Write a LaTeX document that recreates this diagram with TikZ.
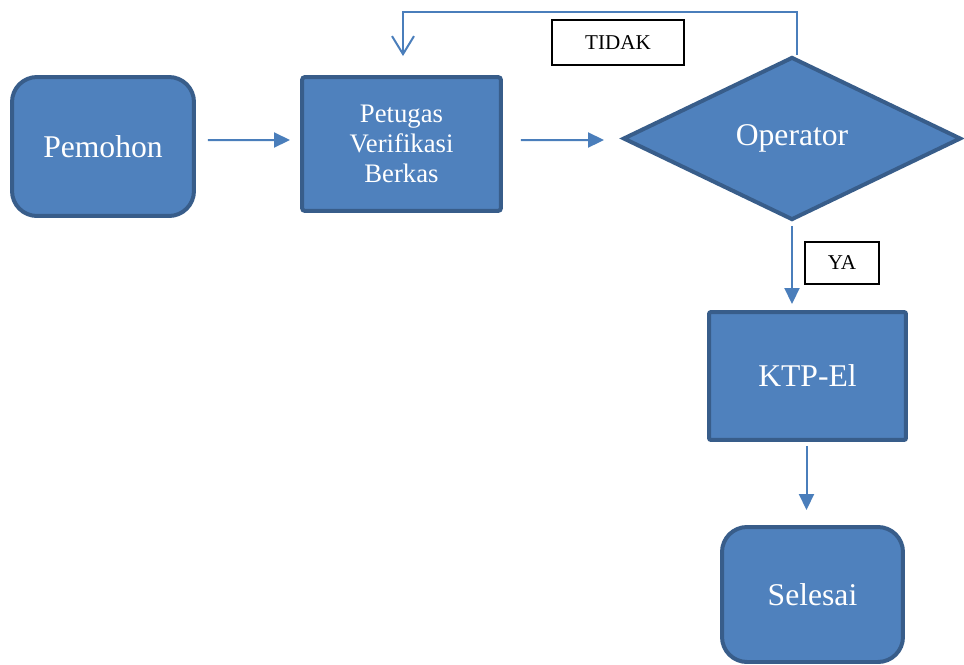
\documentclass[tikz,border=0pt]{standalone}
\usepackage{fontspec}
\setmainfont{Liberation Serif}
\usetikzlibrary{shapes.geometric,arrows.meta}
\definecolor{isian}{HTML}{4F81BD}
\definecolor{tepi}{HTML}{385D8A}
\definecolor{garis}{HTML}{4A7EBB}
\tikzset{
    blok/.style={draw=tepi, fill=isian, line width=0.08cm, text=white, align=center, inner sep=0},
    ket/.style={draw=black, line width=0.7pt, inner sep=0, font=\fontsize{12}{14}\selectfont},
    alur/.style={draw=garis, line width=0.04cm, -{Triangle[length=0.32cm,width=0.3cm]}},
}

\begin{document}
\begin{tikzpicture}[x=0.02cm,y=-0.02cm]
\useasboundingbox (0,0) rectangle (964,664);
%boxes
\node[blok, rounded corners=0.5cm, minimum width=3.64cm, minimum height=2.78cm, font=\fontsize{18}{21}\selectfont] (pemohon) at (103,146.5) {Pemohon};
\node[blok, rounded corners=0.06cm, minimum width=3.98cm, minimum height=2.68cm, font=\fontsize{15.2}{17.2}\selectfont] (petugas) at (401.5,144) {Petugas\\Verifikasi\\Berkas};
\node[blok, diamond, minimum width=6.76cm, minimum height=3.26cm, font=\fontsize{18}{21}\selectfont] (operator) at (792,138.5) {\raisebox{-0.06cm}{Operator}};
\node[blok, rounded corners=0.04cm, minimum width=3.94cm, minimum height=2.56cm, font=\fontsize{18}{21}\selectfont] (ktp) at (807.5,376) {KTP-El};
\node[blok, rounded corners=0.5cm, minimum width=3.62cm, minimum height=2.7cm, font=\fontsize{18}{21}\selectfont] (selesai) at (812.5,594.5) {Selesai};

%labels
\node[ket, minimum width=2.64cm, minimum height=0.9cm] (tidak) at (618,42.5) {TIDAK};
\node[ket, minimum width=1.48cm, minimum height=0.84cm] (ya) at (842,263) {YA};

%arrows
\draw[alur, shorten <=0.24cm, shorten >=0.2cm] ([yshift=0.13cm]pemohon.east) -- ([yshift=0.08cm]petugas.west);
\draw[alur, shorten <=0.36cm, shorten >=0.34cm] ([yshift=0.08cm]petugas.east) -- ([yshift=-0.03cm]operator.west);
\draw[alur, shorten <=0.08cm, shorten >=0.12cm] (operator.south) -- (operator.south |- ktp.north);
\draw[alur, shorten <=0.08cm, shorten >=0.3cm] ([xshift=-0.02cm]ktp.south) -- ([xshift=-0.02cm]ktp.south |- selesai.north);
\coordinate (atas) at (0,12);
\draw[draw=garis, line width=0.04cm, -{Straight Barb[length=0.36cm,width=0.44cm]}, shorten >=0.38cm] ([xshift=0.1cm]operator.north) -- ([xshift=0.1cm]operator.north |- atas) -| ([xshift=0.03cm]petugas.north);

\end{tikzpicture}
\end{document}
